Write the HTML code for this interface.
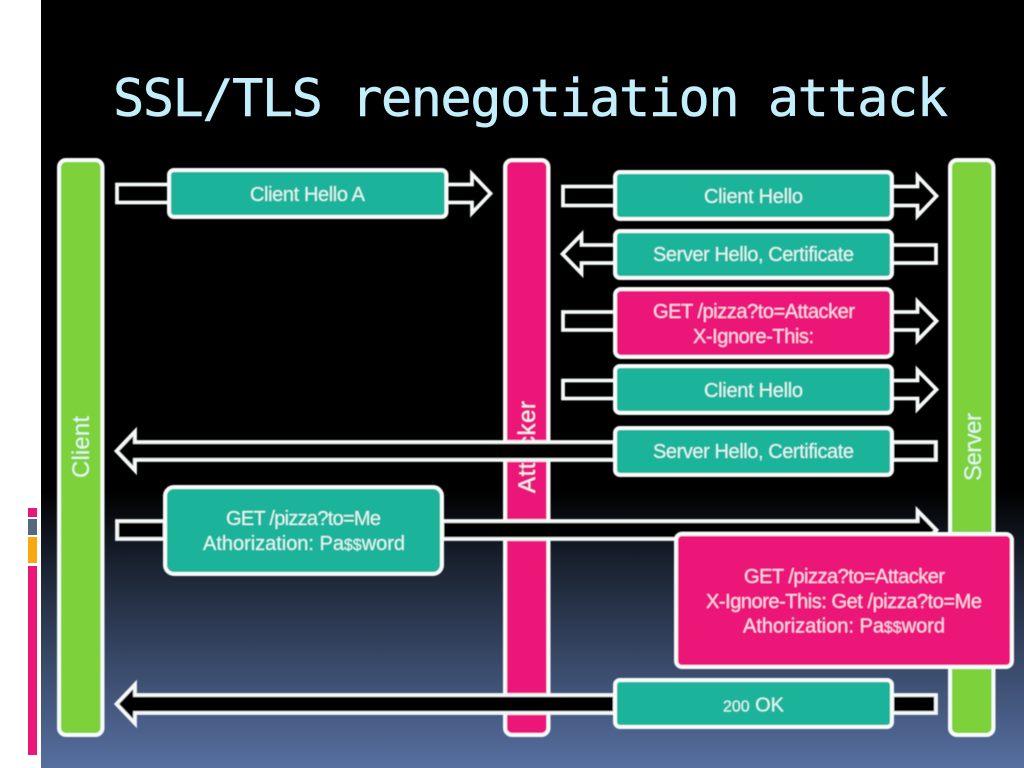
<!DOCTYPE html>
<html><head><meta charset="utf-8">
<style>
html,body{margin:0;padding:0;background:#000;width:1024px;height:768px;overflow:hidden}
svg{display:block}
.t{font-family:"Liberation Sans",sans-serif;font-size:20px;fill:#e4f8f5;text-anchor:middle}
.p{fill:#fbdcea}
.a{fill:none;stroke:#f4f8f7;stroke-width:3.8;stroke-miterlimit:10}
.k{fill:#000;stroke:#f4f8f7;stroke-width:3.8;stroke-miterlimit:10}
.b{stroke:#f7fbfa;stroke-width:4}
</style></head><body>
<svg width="1024" height="768" viewBox="0 0 1024 768" xmlns="http://www.w3.org/2000/svg">
<defs>
<linearGradient id="bg" x1="0" y1="0" x2="0" y2="1">
<stop offset="0" stop-color="#000"/><stop offset="0.64" stop-color="#000"/>
<stop offset="0.74" stop-color="#1b2433"/><stop offset="0.87" stop-color="#3a4b6b"/><stop offset="1" stop-color="#566fa0"/>
</linearGradient>
<filter id="g" x="-10%" y="-10%" width="120%" height="120%"><feGaussianBlur stdDeviation="0.45"/></filter>
</defs>
<rect x="0" y="0" width="1024" height="768" fill="url(#bg)"/>
<rect x="0" y="0" width="41" height="768" fill="#fff"/>
<rect x="28" y="508" width="9" height="9" fill="#ec1679"/>
<rect x="28" y="519" width="9" height="16" fill="#56677f"/>
<rect x="28" y="537" width="9" height="26" fill="#f7a90f"/>
<rect x="28" y="566" width="9" height="189" fill="#ec1679"/>

<text x="113" y="116" font-family="'DejaVu Sans Mono',monospace" font-size="52" fill="#c3effc" stroke="#c3effc" stroke-width="0.5" textLength="835" lengthAdjust="spacing">SSL/TLS renegotiation attack</text>

<g filter="url(#g)">
<rect class="b" x="59" y="160" width="43.500" height="575" rx="7" fill="#7dd13a"/>
<rect class="b" x="505" y="160" width="43.500" height="575" rx="7" fill="#ec1679"/>
<rect class="b" x="950" y="160" width="43.500" height="575" rx="7" fill="#7dd13a"/>
<text class="t" transform="translate(89,447) rotate(-90)" style="font-size:24px" textLength="62">Client</text>
<text class="t" transform="translate(535,447) rotate(-90)" style="font-size:24px" textLength="92">Attacker</text>
<text class="t" transform="translate(981,447) rotate(-90)" style="font-size:24px" textLength="68">Server</text>

<polygon class="a" points="117,184.500 472,184.500 472,174 490.500,193.500 472,213 472,202.500 117,202.500"/>
<polygon class="a" points="563,186.500 917.500,186.500 917.500,176 936.500,196 917.500,216 917.500,205.500 563,205.500"/>
<polygon class="a" points="936,245 581.500,245 581.500,234.500 562.500,254 581.500,273.500 581.500,263 936,263"/>
<polygon class="a" points="563,312 917.500,312 917.500,301.500 936.500,321 917.500,340.500 917.500,330 563,330"/>
<polygon class="a" points="563,380.500 917.500,380.500 917.500,370 936.500,389.500 917.500,409 917.500,398.500 563,398.500"/>
<polygon class="k" points="936,442 135,442 135,431.500 116.500,451 135,470.500 135,460 936,460"/>
<polygon class="k" points="117,521 917.500,521 917.500,510.500 936.500,530 917.500,549.500 917.500,539 117,539"/>
<polygon class="k" points="936,695 135,695 135,684.500 116.500,704 135,723.500 135,713 936,713"/>

<rect class="b" x="169" y="170" width="277.500" height="47" rx="5" fill="#1ab39b"/>
<rect class="b" x="615" y="172" width="277" height="47" rx="5" fill="#1ab39b"/>
<rect class="b" x="615" y="231" width="277" height="47" rx="5" fill="#1ab39b"/>
<rect class="b" x="615" y="289" width="277" height="68" rx="6" fill="#ec1679"/>
<rect class="b" x="615" y="366" width="277" height="47" rx="5" fill="#1ab39b"/>
<rect class="b" x="615" y="428" width="277" height="47" rx="5" fill="#1ab39b"/>
<rect class="b" x="165" y="487" width="277" height="87" rx="9" fill="#1ab39b"/>
<rect class="b" x="676" y="534" width="336" height="133" rx="6" fill="#ec1679"/>
<rect class="b" x="615" y="680" width="277" height="47" rx="5" fill="#1ab39b"/>

<text class="t" x="307.500" y="201" textLength="115">Client Hello A</text>
<text class="t" x="753.500" y="203" textLength="99">Client Hello</text>
<text class="t" x="753.500" y="261" textLength="201">Server Hello, Certificate</text>
<text class="t p" x="754" y="318" textLength="202">GET /pizza?to=Attacker</text>
<text class="t p" x="753.500" y="343" textLength="121">X-Ignore-This:</text>
<text class="t" x="753.500" y="397" textLength="99">Client Hello</text>
<text class="t" x="753.500" y="458" textLength="201">Server Hello, Certificate</text>
<text class="t" x="303.500" y="525" textLength="155">GET /pizza?to=Me</text>
<text class="t" x="304" y="550" textLength="202">Athorization: Pa<tspan style="font-size:16px">$$</tspan>word</text>
<text class="t p" x="844.500" y="583" textLength="201">GET /pizza?to=Attacker</text>
<text class="t p" x="844" y="608" textLength="276">X-Ignore-This: Get /pizza?to=Me</text>
<text class="t p" x="844" y="632.500" textLength="202">Athorization: Pa<tspan style="font-size:16px">$$</tspan>word</text>
<text class="t" x="753.500" y="711.500" textLength="61"><tspan style="font-size:16px">200</tspan> OK</text>
</g>
</svg>
</body></html>
